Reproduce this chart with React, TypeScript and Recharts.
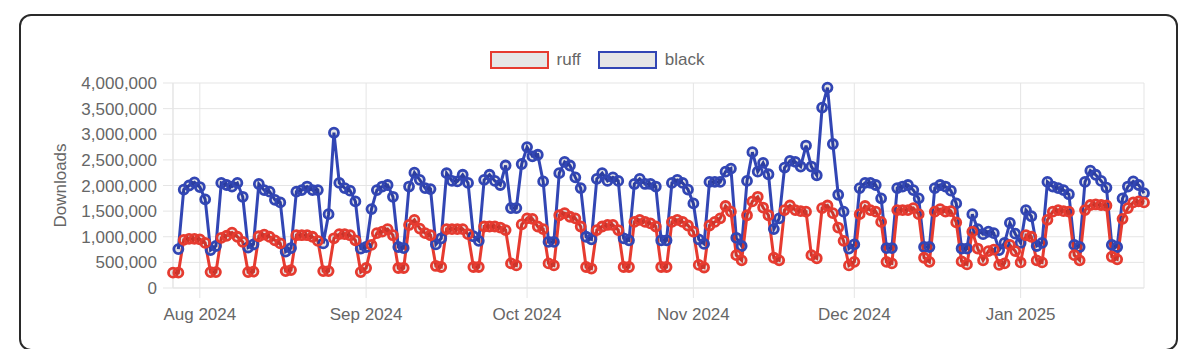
import React from 'react';
import { LineChart, Line, XAxis, YAxis, CartesianGrid } from 'recharts';

const FONT = '"Liberation Sans", Arial, Helvetica, sans-serif';
const DAY = 86400000;
const START = Date.UTC(2024, 6, 27); // first day in the data
const END = Date.UTC(2025, 0, 24);

// daily downloads, one value per day from START
const ruff = [
  300000, 300000, 940000, 960000, 960000, 950000, 880000,
  310000, 310000, 980000, 1020000, 1080000, 1000000, 900000,
  310000, 320000, 1010000, 1040000, 1000000, 930000, 870000,
  330000, 350000, 1030000, 1030000, 1030000, 1000000, 920000,
  330000, 330000, 970000, 1050000, 1050000, 1030000, 930000,
  310000, 390000, 840000, 1070000, 1100000, 1150000, 1030000,
  390000, 390000, 1230000, 1330000, 1160000, 1070000, 1030000,
  430000, 410000, 1150000, 1150000, 1150000, 1150000, 1050000,
  410000, 410000, 1200000, 1200000, 1200000, 1180000, 1130000,
  480000, 440000, 1240000, 1360000, 1350000, 1200000, 1150000,
  480000, 440000, 1420000, 1460000, 1390000, 1360000, 1200000,
  410000, 380000, 1130000, 1200000, 1230000, 1230000, 1130000,
  410000, 410000, 1290000, 1330000, 1290000, 1260000, 1200000,
  410000, 410000, 1290000, 1330000, 1290000, 1220000, 1100000,
  450000, 400000, 1220000, 1290000, 1360000, 1600000, 1490000,
  640000, 540000, 1420000, 1690000, 1780000, 1570000, 1420000,
  590000, 540000, 1520000, 1610000, 1520000, 1500000, 1490000,
  640000, 580000, 1560000, 1610000, 1460000, 1180000, 920000,
  440000, 510000, 1440000, 1600000, 1520000, 1490000, 1290000,
  510000, 480000, 1520000, 1520000, 1520000, 1560000, 1440000,
  590000, 510000, 1490000, 1540000, 1490000, 1500000, 1280000,
  520000, 460000, 1100000, 770000, 540000, 720000, 750000,
  450000, 480000, 840000, 720000, 500000, 1030000, 1000000,
  540000, 500000, 1330000, 1490000, 1520000, 1500000, 1490000,
  640000, 540000, 1520000, 1620000, 1630000, 1620000, 1610000,
  610000, 560000, 1350000, 1560000, 1670000, 1690000, 1670000,
];

const black = [
  null, 760000, 1920000, 2000000, 2060000, 1970000, 1730000,
  740000, 820000, 2050000, 2010000, 1980000, 2050000, 1780000,
  790000, 850000, 2030000, 1910000, 1880000, 1720000, 1670000,
  710000, 780000, 1880000, 1910000, 1980000, 1910000, 1910000,
  870000, 1440000, 3030000, 2050000, 1950000, 1900000, 1690000,
  770000, 800000, 1540000, 1910000, 1980000, 2010000, 1780000,
  800000, 780000, 1980000, 2250000, 2110000, 1950000, 1930000,
  850000, 970000, 2240000, 2090000, 2080000, 2210000, 2050000,
  1010000, 920000, 2110000, 2210000, 2090000, 2010000, 2390000,
  1560000, 1560000, 2420000, 2750000, 2570000, 2600000, 2080000,
  900000, 900000, 2240000, 2460000, 2390000, 2160000, 1950000,
  1000000, 950000, 2130000, 2240000, 2090000, 2160000, 2090000,
  970000, 930000, 2030000, 2130000, 2030000, 2030000, 1980000,
  930000, 930000, 2050000, 2110000, 2050000, 1920000, 1650000,
  950000, 860000, 2070000, 2070000, 2070000, 2270000, 2330000,
  980000, 820000, 2090000, 2650000, 2270000, 2440000, 2220000,
  1150000, 1360000, 2350000, 2480000, 2460000, 2370000, 2780000,
  2370000, 2200000, 3520000, 3910000, 2810000, 1820000, 1490000,
  770000, 850000, 1950000, 2050000, 2050000, 2010000, 1750000,
  780000, 780000, 1950000, 1980000, 2010000, 1910000, 1750000,
  800000, 800000, 1950000, 2010000, 1980000, 1900000, 1650000,
  770000, 770000, 1440000, 1150000, 1050000, 1100000, 1070000,
  740000, 880000, 1270000, 1060000, 880000, 1520000, 1400000,
  820000, 880000, 2070000, 1980000, 1950000, 1910000, 1830000,
  840000, 800000, 2070000, 2290000, 2210000, 2090000, 1960000,
  840000, 800000, 1750000, 1980000, 2080000, 2010000, 1850000,
];

const monthTicks = [
  Date.UTC(2024, 7, 1),
  Date.UTC(2024, 8, 1),
  Date.UTC(2024, 9, 1),
  Date.UTC(2024, 10, 1),
  Date.UTC(2024, 11, 1),
  Date.UTC(2025, 0, 1),
];
const monthLabels = ['Aug 2024', 'Sep 2024', 'Oct 2024', 'Nov 2024', 'Dec 2024', 'Jan 2025'];
const yTicks = [0, 500000, 1000000, 1500000, 2000000, 2500000, 3000000, 3500000, 4000000];

const series = [
  { key: 'ruff', color: '#e63b30' },
  { key: 'black', color: '#3246b4' },
];

const data = ruff.map((v, i) => ({ t: START + i * DAY, ruff: v, black: black[i] }));

const GRID = '#e5e5e5';

const YTitle = (props: any) => {
  const { viewBox } = props;
  const x = viewBox.x + 60;
  const y = viewBox.y + viewBox.height / 2;
  return (
    <text
      x={x}
      y={y}
      transform={`rotate(-90, ${x}, ${y})`}
      textAnchor="middle"
      dominantBaseline="central"
      fill="#666"
      fontSize={17}
      fontFamily={FONT}
    >
      Downloads
    </text>
  );
};

export default function App() {
  return (
    <div style={{ position: 'relative', width: 1184, height: 341 }}>
      <div
        style={{
          position: 'absolute',
          left: 11,
          top: 6,
          width: 1159,
          height: 337,
          border: '2px solid #2a2a2a',
          borderRadius: 12,
          boxSizing: 'border-box',
        }}
      />
      <div style={{ position: 'absolute', left: -8, top: -8, width: 1200, height: 357 }}>
        <div
          style={{
            position: 'absolute',
            top: 51,
            left: 0,
            width: 1194,
            display: 'flex',
            justifyContent: 'center',
            alignItems: 'center',
            fontFamily: FONT,
            fontSize: 17,
            color: '#666',
          }}
        >
          {series.map((s, i) => (
            <div key={s.key} style={{ display: 'flex', alignItems: 'center', marginLeft: i ? 17 : 0 }}>
              <div
                style={{
                  width: 59,
                  height: 18,
                  boxSizing: 'border-box',
                  border: `2.5px solid ${s.color}`,
                  background: '#e6e6e6',
                }}
              />
              <span style={{ marginLeft: 8, lineHeight: '18px' }}>{s.key}</span>
            </div>
          ))}
        </div>
        <LineChart width={1200} height={357} data={data} margin={{ top: 83, right: 56, bottom: 0, left: 0 }}>
          <CartesianGrid stroke={GRID} strokeWidth={1} />
          <XAxis
            dataKey="t"
            type="number"
            domain={[START, END]}
            ticks={monthTicks}
            tickFormatter={(v) => monthLabels[monthTicks.indexOf(v)]}
            height={69}
            tickSize={10}
            tickMargin={10}
            tickLine={{ stroke: GRID }}
            axisLine={{ stroke: GRID }}
            tick={{ fill: '#666', fontSize: 17, fontFamily: FONT }}
          />
          <YAxis
            domain={[0, 4000000]}
            ticks={yTicks}
            width={173}
            tickSize={10}
            tickMargin={6}
            tickLine={{ stroke: GRID }}
            axisLine={{ stroke: GRID }}
            tick={{ fill: '#666', fontSize: 17, fontFamily: FONT }}
            tickFormatter={(v) => v.toLocaleString('en-US')}
            label={{ content: YTitle }}
          />
          <Line
            dataKey="black"
            type="linear"
            stroke="#3246b4"
            strokeWidth={3}
            dot={{ r: 4.5, strokeWidth: 2.8, fill: 'rgba(0,0,0,0.1)' }}
            activeDot={false}
            isAnimationActive={false}
          />
          <Line
            dataKey="ruff"
            type="linear"
            stroke="#e63b30"
            strokeWidth={3}
            dot={{ r: 4.5, strokeWidth: 2.8, fill: 'rgba(0,0,0,0.1)' }}
            activeDot={false}
            isAnimationActive={false}
          />
        </LineChart>
      </div>
    </div>
  );
}
